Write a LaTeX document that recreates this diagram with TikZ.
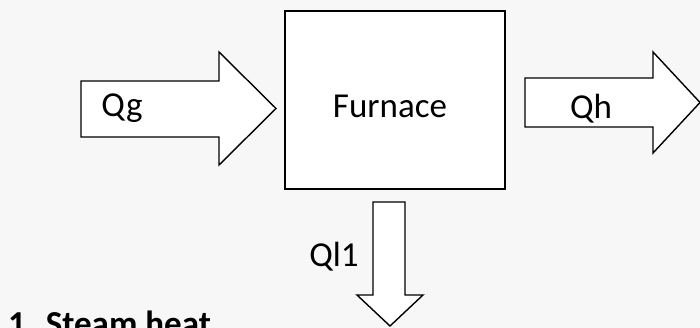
\documentclass[tikz,border=0pt]{standalone}
\usepackage{fontspec}
\setmainfont{Carlito}
\begin{document}
\begin{tikzpicture}[x=1pt,y=-1pt,
  lbl/.style={inner sep=0pt,anchor=base,font=\fontsize{35}{42}\selectfont},
  flow/.style={draw=black,line width=1.4pt,fill=white,line join=miter},
  boxstyle/.style={draw=black,line width=2.2pt,fill=white}]
\fill[white!97!black] (0,0) rectangle (700,328);
\useasboundingbox (0,0) rectangle (700,328);
% furnace
\node[boxstyle,minimum width=220pt,minimum height=178pt,inner sep=0pt] (furnace) at (395,100) {};
\node[lbl] (ftext) at (390,118) {Furnace};
% Qg arrow
\draw[flow] (81,81) -- (219,81) -- (219,52) -- (276,108.5) -- (219,165) -- (219,137) -- (81,137) -- cycle;
\node[lbl] (qg) at (122,117) {Qg};
% Qh arrow
\draw[flow] (525,78) -- (653,78) -- (653,52) -- (700,102.5) -- (653,153) -- (653,127) -- (525,127) -- cycle;
\node[lbl] (qh) at (591,119) {Qh};
% Ql1 arrow
\draw[flow] (373,202) -- (405,202) -- (405,295) -- (423,295) -- (390,326) -- (357,295) -- (373,295) -- cycle;
\node[lbl] (ql) at (334,266.5) {Ql1};
% caption
\node[lbl,anchor=base west,font=\fontsize{35}{42}\selectfont\bfseries] (cap) at (8,335) {1. Steam heat};
\end{tikzpicture}
\end{document}
